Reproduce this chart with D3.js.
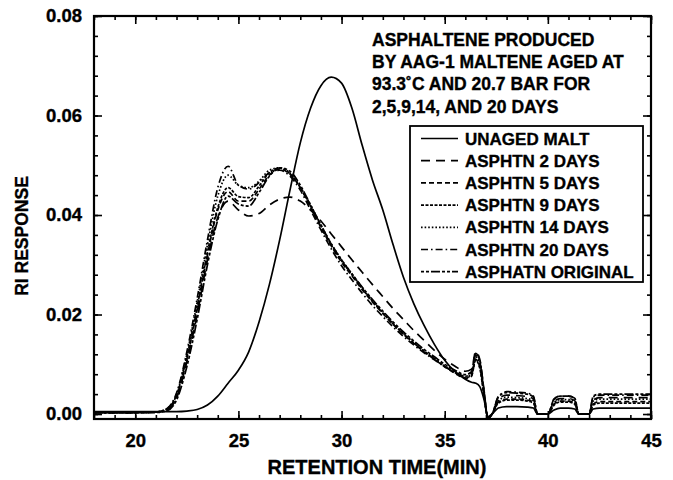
<!DOCTYPE html>
<html><head><meta charset="utf-8">
<script src="https://cdn.jsdelivr.net/npm/d3@7/dist/d3.min.js"></script>
<style>
html,body{margin:0;padding:0;background:#fff;}
svg text{font-family:"Liberation Sans",Arial,Helvetica,sans-serif;font-weight:bold;fill:#000;stroke:#000;stroke-width:0.35px;}
</style></head>
<body><svg id="c" width="673" height="480"></svg>
<script>
// ---- data ----
const time = [18,20,21,21.5,22,22.5,23,23.5,24,24.5,
  25,25.5,26,26.5,27,27.5,28,28.5,29,29.5,
  30,30.5,31,31.5,32,32.5,33,33.5,34,34.5,
  35,35.5,36,36.3,36.5,36.7,36.9,37.1,37.3,37.6,
  38,38.5,39,39.3,39.5,40,40.3,40.6,41,41.3,
  41.5,42,42.2,42.5,43,44,45];
const unagedMalt = [0.0005,0.0005,0.0005,0.0005,0.0005,0.0006,0.0009,0.0018,0.0036,0.0062,
  0.0088,0.0125,0.0185,0.026,0.035,0.045,0.0545,0.0615,0.066,0.0677,
  0.0665,0.0615,0.054,0.047,0.041,0.034,0.0275,0.0222,0.0178,0.014,
  0.0108,0.0085,0.007,0.0064,0.0062,0.0055,0.003,-0.0005,0.0,0.0012,
  0.0015,0.0015,0.0014,0.0012,0.0,0.0,0.0008,0.0012,0.0012,0.001,
  0.0,0.0,0.001,0.0012,0.0012,0.0012,0.0012];
const asphtn2 = [0.0003,0.0003,0.0004,0.0008,0.0032,0.0105,0.020,0.031,0.0395,0.0428,
  0.041,0.0398,0.0403,0.042,0.0432,0.0436,0.0428,0.041,0.0388,0.0362,
  0.0336,0.031,0.0285,0.026,0.0236,0.0212,0.019,0.0168,0.0148,0.0128,
  0.011,0.0096,0.0086,0.009,0.0125,0.011,0.005,-0.0008,0.0,0.003,
  0.0038,0.0037,0.0035,0.003,0.0,0.0,0.0025,0.0031,0.0031,0.0027,
  0.0,0.0,0.0028,0.0033,0.0033,0.0033,0.0033];
const asphtn5 = [0.0003,0.0003,0.0004,0.0008,0.0035,0.011,0.021,0.032,0.041,0.0447,
  0.0428,0.0428,0.0452,0.048,0.0492,0.0482,0.0455,0.0415,0.0375,0.0338,
  0.0305,0.0278,0.025,0.0225,0.0202,0.018,0.016,0.0142,0.0125,0.011,
  0.0095,0.0082,0.0072,0.0076,0.011,0.0095,0.004,-0.0008,0.0,0.0024,
  0.003,0.003,0.0028,0.0024,0.0,0.0,0.002,0.0026,0.0026,0.0022,
  0.0,0.0,0.002,0.0025,0.0025,0.0025,0.0025];
const asphtn9 = [0.0003,0.0003,0.0004,0.0009,0.0038,0.0115,0.0215,0.0325,0.0415,0.0455,
  0.0437,0.0435,0.0458,0.0485,0.0494,0.0483,0.0455,0.0418,0.0378,0.034,
  0.0308,0.028,0.0252,0.0227,0.0203,0.0181,0.0161,0.0143,0.0126,0.0111,
  0.0096,0.0083,0.0073,0.0078,0.0108,0.0092,0.0038,-0.0008,0.0,0.0022,
  0.0028,0.0028,0.0026,0.0022,0.0,0.0,0.0018,0.0024,0.0024,0.002,
  0.0,0.0,0.0018,0.0022,0.0022,0.0022,0.0022];
const asphtn14 = [0.0003,0.0003,0.0004,0.001,0.004,0.012,0.0225,0.034,0.0438,0.048,
  0.046,0.0455,0.0468,0.049,0.0495,0.0484,0.0456,0.042,0.038,0.0342,
  0.031,0.0282,0.0254,0.0228,0.0204,0.0182,0.0162,0.0144,0.0127,0.0112,
  0.0097,0.0085,0.0075,0.008,0.0115,0.01,0.0042,-0.0008,0.0,0.0027,
  0.0034,0.0033,0.0031,0.0027,0.0,0.0,0.0023,0.0029,0.0029,0.0025,
  0.0,0.0,0.0026,0.003,0.003,0.003,0.003];
const asphtn20 = [0.0003,0.0003,0.0004,0.001,0.0042,0.0125,0.0232,0.035,0.0455,0.0498,
  0.046,0.0452,0.0465,0.0485,0.049,0.0478,0.045,0.041,0.037,0.0332,
  0.0298,0.027,0.0243,0.0218,0.0196,0.0175,0.0156,0.0139,0.0123,0.0109,
  0.0095,0.0084,0.0076,0.0082,0.0118,0.0105,0.0045,-0.0008,0.0,0.0035,
  0.0045,0.0044,0.0042,0.0036,0.0,0.0,0.003,0.0036,0.0036,0.0032,
  0.0,0.0,0.0034,0.0038,0.0038,0.0038,0.0038];
const asphtnOriginal = [0.0003,0.0003,0.0003,0.0006,0.0028,0.0095,0.019,0.03,0.039,0.0438,
  0.0422,0.0418,0.0445,0.0478,0.0495,0.0488,0.046,0.042,0.038,0.0342,
  0.031,0.0282,0.0255,0.023,0.0207,0.0185,0.0165,0.0147,0.013,0.0115,
  0.01,0.0088,0.0079,0.0085,0.0122,0.0108,0.0048,-0.0008,0.0,0.0034,
  0.0043,0.0042,0.004,0.0034,0.0,0.0,0.003,0.0036,0.0036,0.0032,
  0.0,0.0,0.0036,0.004,0.004,0.004,0.004];
const seriesNames = ["UNAGED MALT","ASPHTN 2 DAYS","ASPHTN 5 DAYS","ASPHTN 9 DAYS","ASPHTN 14 DAYS","ASPHTN 20 DAYS","ASPHATN ORIGINAL"];
const seriesValues = [unagedMalt, asphtn2, asphtn5, asphtn9, asphtn14, asphtn20, asphtnOriginal];
const xTickLabels = [20,25,30,35,40,45];
const yTickLabels = [0,0.02,0.04,0.06,0.08];
const note = ["ASPHALTENE PRODUCED","BY AAG-1 MALTENE AGED AT","93.3˚C AND 20.7 BAR FOR","2,5,9,14, AND 20 DAYS"];

// ---- styles ----
const dashes = [null,"9,6","5,3","3,1.5","1.6,2","7,3,1.6,3","3,2,3,2,9,2"];

const svg = d3.select("#c");
const L=94, R=651, T=16, B=419;
const x = d3.scaleLinear().domain([18,45]).range([L,R]);
const y = d3.scaleLinear().domain([-0.001,0.08]).range([B,T]);

svg.append("defs").append("clipPath").attr("id","clip")
  .append("rect").attr("x",L).attr("y",T).attr("width",R-L).attr("height",B-T);

const line = d3.line().x(d=>x(d[0])).y(d=>y(d[1])).curve(d3.curveMonotoneX);
const g = svg.append("g").attr("clip-path","url(#clip)");
seriesValues.forEach((vals,i)=>{
  g.append("path").datum(time.map((t,j)=>[t,vals[j]]))
    .attr("d",line).attr("fill","none").attr("stroke","#000")
    .attr("stroke-width",1.7)
    .attr("stroke-dasharray",dashes[i]);
});

// axes
const xMinor = d3.range(18,45.01,1);
const yMinor = d3.range(0,0.0801,0.004);
function styleAxis(sel){ sel.select(".domain").remove(); sel.selectAll("line").attr("stroke","#000").attr("stroke-width",1.6); }
svg.append("g").attr("transform",`translate(0,${B})`).call(d3.axisBottom(x).tickValues(xMinor).tickSize(-4).tickFormat("")).call(styleAxis);
svg.append("g").attr("transform",`translate(0,${T})`).call(d3.axisTop(x).tickValues(xMinor).tickSize(-4).tickFormat("")).call(styleAxis);
svg.append("g").attr("transform",`translate(${L},0)`).call(d3.axisLeft(y).tickValues(yMinor).tickSize(-4).tickFormat("")).call(styleAxis);
svg.append("g").attr("transform",`translate(${R},0)`).call(d3.axisRight(y).tickValues(yMinor).tickSize(-4).tickFormat("")).call(styleAxis);

const xa = svg.append("g").attr("transform",`translate(0,${B})`)
  .call(d3.axisBottom(x).tickValues(xTickLabels).tickSize(-8).tickPadding(15).tickFormat(d3.format("d")));
styleAxis(xa);
xa.selectAll("text").attr("font-size",18.5).attr("font-family",null);
svg.append("g").attr("transform",`translate(0,${T})`).call(d3.axisTop(x).tickValues(xTickLabels).tickSize(-8).tickFormat("")).call(styleAxis);
const ya = svg.append("g").attr("transform",`translate(${L},0)`)
  .call(d3.axisLeft(y).tickValues(yTickLabels).tickSize(-8).tickPadding(12).tickFormat(d3.format(".2f")));
styleAxis(ya);
ya.selectAll("text").attr("font-size",18.5).attr("font-family",null);
svg.append("g").attr("transform",`translate(${R},0)`).call(d3.axisRight(y).tickValues(yTickLabels).tickSize(-8).tickFormat("")).call(styleAxis);

// frame
svg.append("rect").attr("x",L).attr("y",T).attr("width",R-L).attr("height",B-T)
  .attr("fill","none").attr("stroke","#000").attr("stroke-width",2.2);

// axis titles
svg.append("text").attr("x",377).attr("y",474).attr("text-anchor","middle").attr("font-size",20).text("RETENTION TIME(MIN)");
svg.append("text").attr("transform","translate(28,236) rotate(-90)").attr("text-anchor","middle").attr("font-size",17.5).text("RI RESPONSE");

// annotation
note.forEach((s,i)=>{
  svg.append("text").attr("x",372).attr("y",45.5+i*22.4).attr("font-size",17.5).text(s);
});

// legend
const lg = svg.append("g");
lg.append("rect").attr("x",410).attr("y",126).attr("width",233).attr("height",156)
  .attr("fill","#fff").attr("stroke","#000").attr("stroke-width",1.8);
seriesNames.forEach((n,i)=>{
  const cy = 138.5 + i*22.2;
  lg.append("line").attr("x1",421).attr("x2",458).attr("y1",cy).attr("y2",cy)
    .attr("stroke","#000").attr("stroke-width",1.7).attr("stroke-dasharray",dashes[i]);
  lg.append("text").attr("x",465).attr("y",cy+6).attr("font-size",17).text(n);
});
</script></body></html>
